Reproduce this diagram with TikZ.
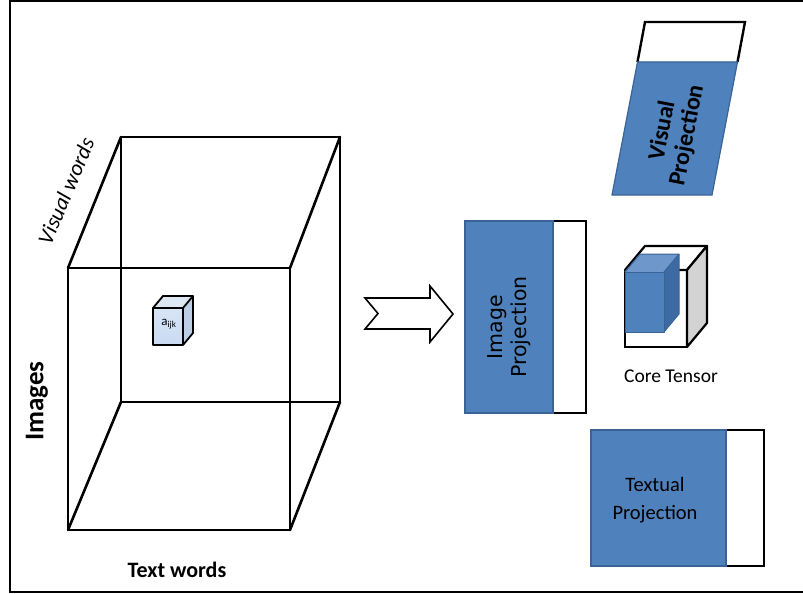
\documentclass[tikz,border=0pt]{standalone}
\usepackage{fontspec}
\setmainfont{Carlito}
\newfontfamily\dvs{DejaVu Sans}
\definecolor{pblue}{HTML}{4F81BD}
\definecolor{pborder}{HTML}{3A6496}
\definecolor{ptop}{HTML}{6E97CB}
\definecolor{pside}{HTML}{3D6AA3}
\definecolor{cfront}{HTML}{C9DAF2}
\definecolor{ctop}{HTML}{DDE7F4}
\definecolor{cside}{HTML}{BCCDE6}
\definecolor{gside}{HTML}{D3D3D3}
\begin{document}
\begin{tikzpicture}[x=1pt,y=1pt,
  cubeline/.style={line width=2.6pt, line join=round, line cap=round},
  frameline/.style={line width=1.2pt},
  projblue/.style={fill=pblue, draw=pborder, line width=1.2pt},
  projwhite/.style={fill=white, draw=black, line width=2.4pt},
  smallcube/.style={draw=black, line width=1.8pt, line join=round},
  lbl/.style={inner sep=0pt, align=center}]
\useasboundingbox (0,0) rectangle (803,-594);
% frame
\draw[frameline] (803,-1) -- (10,-1) -- (10,-592) -- (803,-592);

% big cube
\coordinate (F1) at (68,-268);
\coordinate (F2) at (290,-268);
\coordinate (F3) at (290,-530);
\coordinate (F4) at (68,-530);
\coordinate (B1) at (121,-137);
\coordinate (B2) at (340,-137);
\coordinate (B3) at (340,-402);
\coordinate (B4) at (121,-402);
\draw[cubeline] (B1) -- (B2) -- (B3) -- (B4) -- cycle;
\draw[cubeline] (F1) -- (F2) -- (F3) -- (F4) -- cycle;
\draw[cubeline] (F1) -- (B1);
\draw[cubeline] (F2) -- (B2);
\draw[cubeline] (F3) -- (B3);
\draw[cubeline] (F4) -- (B4);

% small cube a_ijk
\fill[ctop] (153,-308) -- (163,-296) -- (193,-296) -- (183,-308) -- cycle;
\fill[cside] (183,-308) -- (193,-296) -- (193,-333) -- (183,-345) -- cycle;
\shade[top color=cfront!70!white, bottom color=cfront] (153,-308) rectangle (183,-345);
\draw[smallcube] (153,-308) rectangle (183,-345);
\draw[smallcube] (153,-308) -- (163,-296) -- (193,-296) -- (183,-308);
\draw[smallcube] (193,-296) -- (193,-333) -- (183,-345);
\node[lbl, font=\fontsize{13}{14}\selectfont] (aijk) at (169,-324) {a\textsubscript{ijk}};

% labels of big cube
\node[lbl, rotate=67, font=\itshape\fontsize{22}{24}\selectfont] (vw) at (66,-191) {Visual words};
\node[lbl, rotate=90, font=\bfseries\fontsize{27}{30}\selectfont] (img) at (37,-401) {Images};
\node[lbl, font=\bfseries\fontsize{22}{24}\selectfont] (tw) at (177,-570) {Text words};

% block arrow
\draw[line width=1.6pt, line join=miter, fill=white] (365,-298) -- (430,-298) -- (430,-286) -- (453,-314) -- (430,-342) -- (430,-329) -- (365,-329) -- (378,-313.5) -- cycle;

% image projection
\draw[projwhite] (553,-221) rectangle (586,-413);
\draw[projblue] (465,-221) rectangle (553,-413);
\node[lbl, rotate=90, font=\dvs\fontsize{20.5}{24}\selectfont] (ip) at (509,-327) {Image\\Projection};

% visual projection
\draw[projwhite] (637.5,-62) -- (645,-22) -- (745,-22) -- (737.5,-62);
\draw[projblue] (637.5,-62) -- (737.5,-62) -- (712,-195) -- (612,-195) -- cycle;
\node[lbl, rotate=79, font=\bfseries\fontsize{24}{25}\selectfont] (vp) at (675,-133) {Visual\\Projection};

% core tensor
\draw[projwhite, line width=2.2pt] (625,-270) rectangle (687,-347);
\draw[fill=white, draw=black, line width=2.2pt, line join=round] (625,-270) -- (645,-246) -- (707,-246) -- (687,-270) -- cycle;
\draw[fill=gside, draw=black, line width=2.2pt, line join=round] (687,-270) -- (707,-246) -- (707,-323) -- (687,-347) -- cycle;
\fill[ptop] (625,-272) -- (640,-254) -- (679,-254) -- (664,-272) -- cycle;
\fill[pside] (664,-272) -- (679,-254) -- (679,-314) -- (664,-332) -- cycle;
\fill[pblue] (625,-272) rectangle (664,-332);
\draw[pborder, line width=1pt, line join=round] (625,-272) rectangle (664,-332);
\draw[pborder, line width=1pt, line join=round] (625,-272) -- (640,-254) -- (679,-254) -- (664,-272);
\draw[pborder, line width=1pt, line join=round] (679,-254) -- (679,-314) -- (664,-332);
\node[lbl, font=\fontsize{19.5}{22}\selectfont] (ct) at (671,-376) {Core Tensor};

% textual projection
\draw[projwhite] (726,-430) rectangle (764,-566);
\draw[projblue] (591,-430) rectangle (726,-566);
\node[lbl, font=\fontsize{20.5}{28}\selectfont] (tp) at (655,-500) {Textual\\Projection};
\end{tikzpicture}
\end{document}
